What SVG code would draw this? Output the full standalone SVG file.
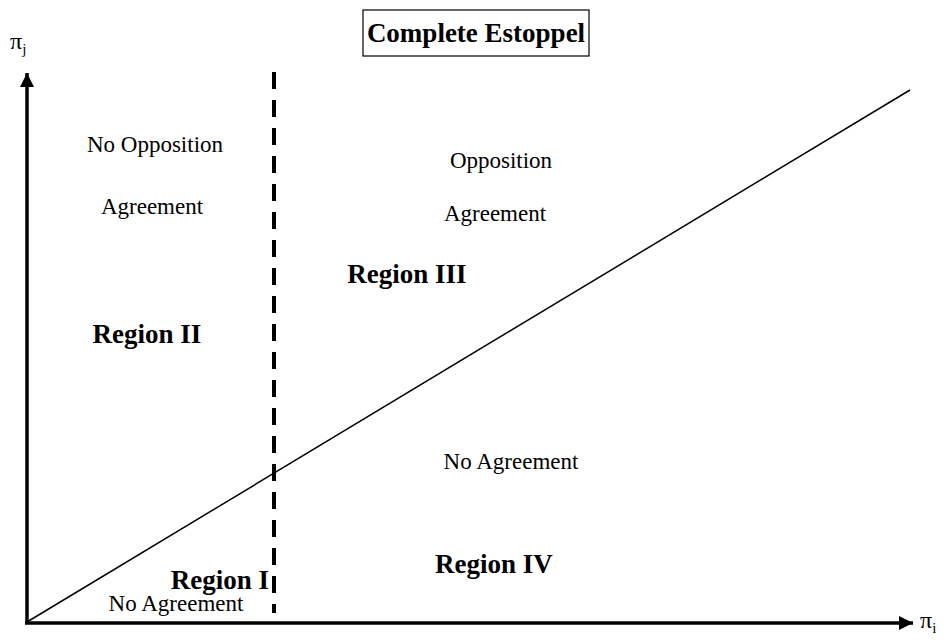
<svg xmlns="http://www.w3.org/2000/svg" width="948" height="644" viewBox="0 0 948 644">
<style>
.t{font-family:"Liberation Serif","Times New Roman",serif;font-size:23px;fill:#000;text-anchor:middle}
.b{font-family:"Liberation Serif","Times New Roman",serif;font-size:27px;font-weight:bold;fill:#000;text-anchor:middle}
.ax{stroke:#000;stroke-width:3.5;fill:none}
</style>
<defs>
<marker id="ah" markerUnits="userSpaceOnUse" markerWidth="16" markerHeight="16" refX="14" refY="7" orient="auto">
<path d="M0,0 L14,7 L0,14 Z" fill="#000"/>
</marker>
</defs>
<rect width="948" height="644" fill="#fff"/>
<g id="connectors">
<line class="ax" x1="27" y1="623" x2="27" y2="73" marker-end="url(#ah)"/>
<line class="ax" x1="25" y1="623" x2="913" y2="623" marker-end="url(#ah)"/>
<line x1="274" y1="72" x2="274" y2="613" stroke="#000" stroke-width="4" stroke-dasharray="17,11"/>
<line x1="27" y1="622" x2="910" y2="90" stroke="#000" stroke-width="1.5"/>
</g>
<g id="title">
<rect x="363" y="10" width="226" height="46" fill="none" stroke="#000" stroke-width="1.2"/>
<text class="b" x="476" y="42">Complete Estoppel</text>
</g>
<g id="axis-labels">
<text x="10" y="49" font-family="Liberation Serif,serif" font-size="24">π<tspan font-size="15" dy="5">j</tspan></text>
<text x="920" y="628" font-family="Liberation Serif,serif" font-size="24">π<tspan font-size="15" dy="5">i</tspan></text>
</g>
<g id="region2">
<text class="t" x="155" y="152">No Opposition</text>
<text class="t" x="152" y="214">Agreement</text>
<text class="b" x="147" y="343">Region II</text>
</g>
<g id="region3">
<text class="t" x="501" y="168">Opposition</text>
<text class="t" x="495" y="221">Agreement</text>
<text class="b" x="407" y="283">Region III</text>
</g>
<g id="region4">
<text class="t" x="511" y="469">No Agreement</text>
<text class="b" x="494" y="573">Region IV</text>
</g>
<g id="region1">
<text class="b" x="220" y="589">Region I</text>
<text class="t" x="176" y="611">No Agreement</text>
</g>
</svg>
